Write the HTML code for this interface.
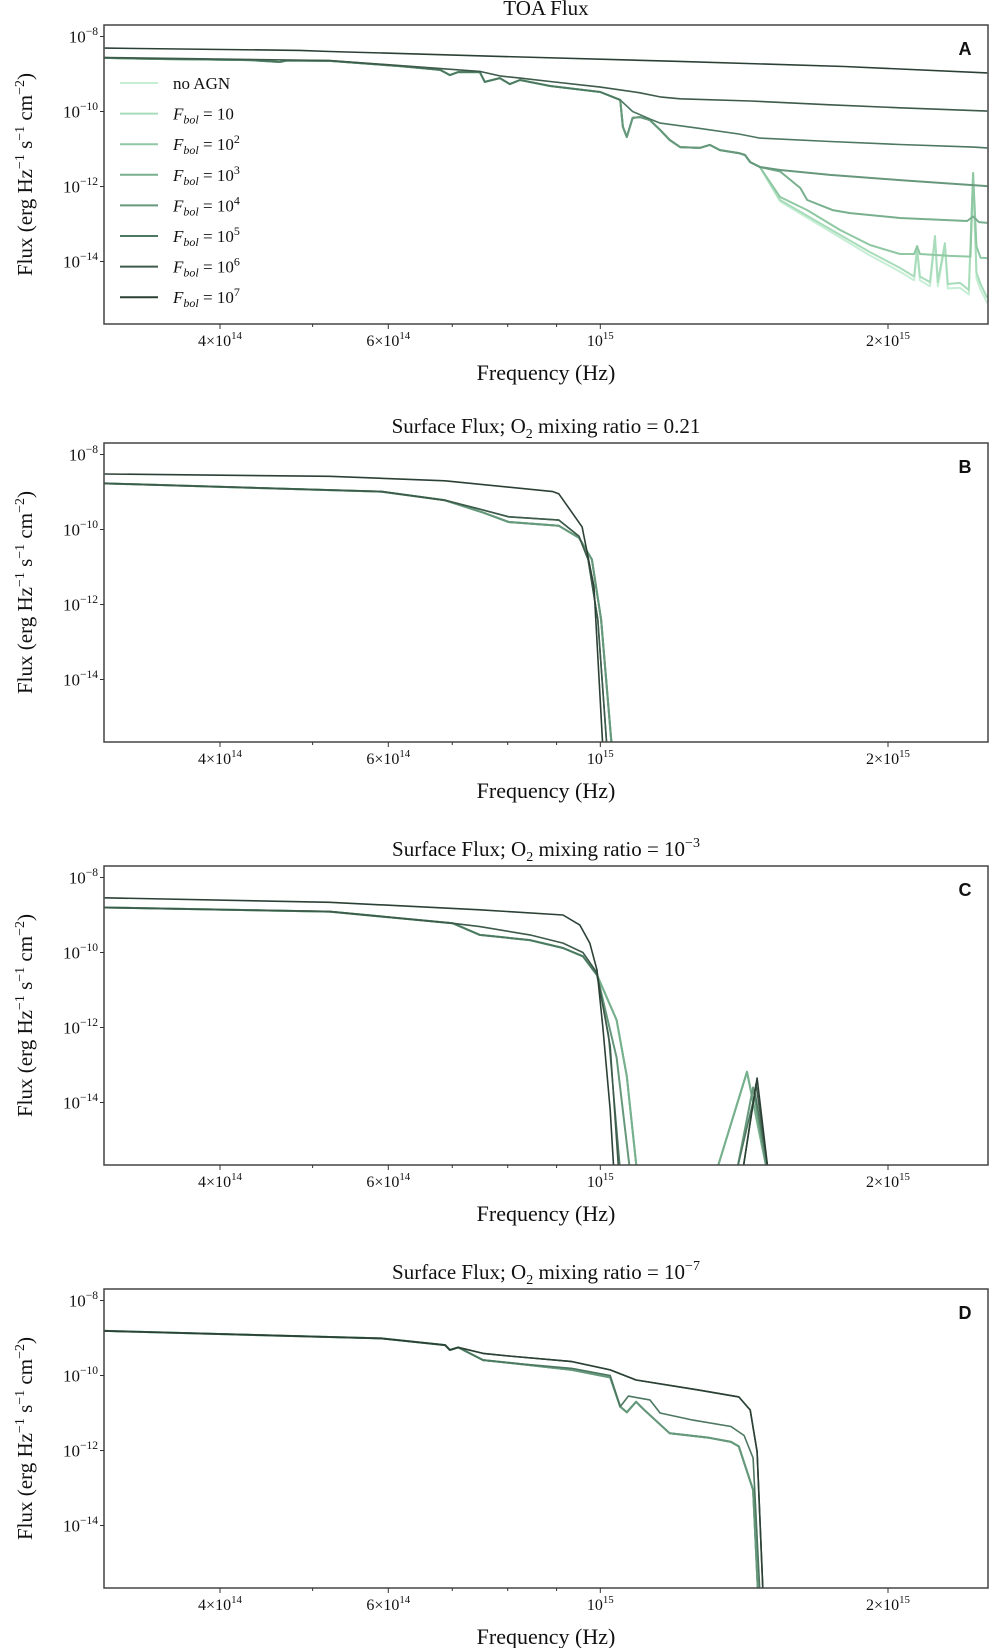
<!DOCTYPE html>
<html><head><meta charset="utf-8">
<style>
html,body{margin:0;padding:0;background:#fff;}
svg{display:block;font-family:"Liberation Serif","DejaVu Serif",serif;}
</style></head>
<body>
<svg id="fig" width="995" height="1648" viewBox="0 0 995 1648" xmlns="http://www.w3.org/2000/svg">
<defs>
<clipPath id="clipA"><rect x="104" y="25" width="884" height="299"/></clipPath>
<clipPath id="clipB"><rect x="104" y="443" width="884" height="299"/></clipPath>
<clipPath id="clipC"><rect x="104" y="866" width="884" height="299"/></clipPath>
<clipPath id="clipD"><rect x="104" y="1289" width="884" height="299"/></clipPath>
</defs>
</svg>
<script>
// ---- shared axis data ----
const seriesNames = ["no AGN","F_bol=10","F_bol=10^2","F_bol=10^3","F_bol=10^4","F_bol=10^5","F_bol=10^6","F_bol=10^7"];
const seriesColors = ["#c6eed4","#a8dcba","#8fc8a2","#78b08e","#67987c","#4c7760","#3d5a4a","#2c4136"];
const xTickValues = [4, 6, 10, 20];            // units of 1e14 Hz
const xTickMant = ["4\u00d710", "6\u00d710", "10", "2\u00d710"];
const xTickExp = ["14", "14", "15", "15"];
const xMinorValues = [5, 7, 8, 9];
const yTickValues = [-8, -10, -12, -14];        // log10 flux
const panelTitles = ["TOA Flux", "Surface Flux; O2 mixing ratio = 0.21", "Surface Flux; O2 mixing ratio = 10^-3", "Surface Flux; O2 mixing ratio = 10^-7"];
const panelLetters = ["A", "B", "C", "D"];

// ---- Panel A (TOA) data: [freq (1e14 Hz), log10 flux] ----
const A_bulk = [[3.03,-8.57],[3.46,-8.60],[3.81,-8.61],[4.30,-8.63],[4.62,-8.68],[4.70,-8.64],[5.21,-8.65],[6.17,-8.79],[6.80,-8.89],[6.96,-9.03],[7.10,-8.95],[7.48,-8.95],[7.57,-9.21],[7.85,-9.11],[8.04,-9.27],[8.24,-9.16],[8.86,-9.32],[10.0,-9.48],[10.49,-9.69],[10.56,-10.41],[10.66,-10.68],[10.81,-10.17],[11.0,-10.15],[11.27,-10.23],[11.55,-10.49],[11.82,-10.76],[12.12,-10.95],[12.71,-10.97],[13.02,-10.89],[13.34,-11.03],[13.96,-11.11],[14.17,-11.16],[14.35,-11.35],[14.69,-11.48]];
const A_f7 = [[3.03,-8.31],[4.85,-8.37],[5.21,-8.40],[7.85,-8.53],[12.0,-8.66],[18.0,-8.80],[25.4,-8.97]];
const A_f6 = [[3.03,-8.56],[5.21,-8.64],[7.48,-8.93],[7.85,-9.05],[8.24,-9.11],[8.86,-9.20],[10.0,-9.35],[11.0,-9.50],[11.55,-9.61],[12.12,-9.66],[14.35,-9.72],[17.39,-9.82],[20.58,-9.90],[25.4,-9.99]];
const A_f5 = A_bulk.slice(0,19).concat([[10.81,-10.0],[11.27,-10.2],[11.55,-10.31],[12.71,-10.45],[13.96,-10.6],[14.69,-10.71],[17.39,-10.80],[20.58,-10.88],[24.55,-10.95],[25.4,-10.97]]);
const A_f4 = A_bulk.concat([[15.42,-11.56],[17.39,-11.69],[20.58,-11.83],[25.4,-11.99]]);
const A_f3 = A_bulk.concat([[15.42,-11.60],[16.19,-12.04],[16.46,-12.36],[17.50,-12.63],[18.26,-12.71],[20.58,-12.84],[24.2,-12.92],[24.55,-12.80],[24.9,-12.95],[25.4,-12.97]]);
const A_f2 = A_bulk.concat([[15.42,-12.28],[16.46,-12.63],[17.82,-13.16],[19.15,-13.56],[20.58,-13.80],[21.3,-13.80],[21.45,-13.59],[21.6,-13.80],[23.2,-13.85],[24.4,-13.87],[24.55,-11.64],[24.75,-13.6],[25.0,-13.9],[25.4,-13.91]]);
const A_f1 = A_bulk.concat([[15.42,-12.36],[17.82,-13.29],[19.15,-13.75],[20.58,-14.17],[21.3,-14.40],[21.45,-13.64],[21.6,-14.40],[22.13,-14.55],[22.4,-13.32],[22.55,-14.55],[22.94,-13.51],[23.1,-14.60],[23.79,-14.57],[24.3,-14.76],[24.55,-11.64],[24.75,-14.30],[25.0,-14.60],[25.4,-14.97]]);
const A_f0 = A_bulk.concat([[15.42,-12.40],[17.82,-13.36],[19.15,-13.84],[20.58,-14.27],[21.3,-14.50],[21.45,-13.70],[21.6,-14.50],[22.13,-14.66],[22.4,-13.40],[22.55,-14.66],[22.94,-13.60],[23.1,-14.72],[23.79,-14.70],[24.3,-14.88],[24.55,-11.70],[24.75,-14.45],[25.0,-14.75],[25.4,-15.11]]);

// ---- Panel B data ----
const B_f7 = [[3.03,-8.52],[5.21,-8.58],[6.88,-8.70],[8.92,-8.99],[9.05,-9.05],[9.57,-9.93],[9.85,-11.53],[10.06,-15.8]];
const B_f6 = [[3.03,-8.77],[5.90,-8.99],[6.88,-9.22],[7.54,-9.48],[8.02,-9.66],[9.05,-9.75],[9.50,-10.18],[9.71,-10.80],[9.94,-12.4],[10.16,-15.8]];
const B_low = [[3.03,-8.77],[5.90,-8.99],[6.88,-9.22],[7.54,-9.55],[8.02,-9.80],[9.05,-9.90],[9.50,-10.22],[9.80,-10.80],[10.02,-12.4],[10.28,-15.8]];

// ---- Panel C data ----
const C_f7 = [[3.03,-8.54],[5.21,-8.66],[7.48,-8.86],[9.14,-9.0],[9.52,-9.27],[9.75,-9.75],[9.92,-10.47],[10.06,-11.98],[10.24,-14.2],[10.33,-15.8],[14.10,-15.8],[14.59,-13.35],[14.98,-15.8]];
const C_f6 = [[3.03,-8.80],[5.21,-8.91],[7.01,-9.22],[7.48,-9.31],[8.44,-9.53],[9.14,-9.75],[9.59,-10.0],[9.92,-10.54],[10.24,-12.5],[10.45,-15.8],[14.10,-15.8],[14.55,-13.5],[14.98,-15.8]];
const C_f5 = [[3.03,-8.80],[5.21,-8.91],[7.01,-9.22],[7.48,-9.53],[8.44,-9.67],[9.14,-9.88],[9.59,-10.1],[9.92,-10.6],[10.20,-12.2],[10.49,-15.8],[13.90,-15.8],[14.52,-13.75],[14.98,-15.8]];
const C_f4 = [[3.03,-8.80],[5.21,-8.91],[7.01,-9.22],[7.48,-9.53],[8.44,-9.67],[9.14,-9.88],[9.59,-10.1],[9.92,-10.6],[10.40,-12.8],[10.74,-15.8],[13.90,-15.8],[14.45,-13.6],[14.94,-15.8]];
const C_low = [[3.03,-8.80],[5.21,-8.91],[7.01,-9.22],[7.48,-9.53],[8.44,-9.67],[9.14,-9.88],[9.59,-10.1],[9.92,-10.6],[10.40,-11.8],[10.66,-13.3],[10.92,-15.8],[13.24,-15.8],[14.24,-13.18],[14.94,-15.8]];

// ---- Panel D data ----
const D_top = [[3.03,-8.81],[5.90,-9.01],[6.88,-9.19],[6.96,-9.32],[7.10,-9.25],[7.54,-9.41],[8.02,-9.48],[9.34,-9.63],[10.24,-9.85],[10.90,-10.12],[12.68,-10.39],[13.96,-10.57],[14.35,-10.92],[14.59,-12.03],[14.80,-15.8]];
const D_mid = [[3.03,-8.81],[5.90,-9.01],[6.88,-9.19],[6.96,-9.32],[7.10,-9.25],[7.54,-9.59],[8.02,-9.66],[9.34,-9.81],[10.24,-10.0],[10.49,-10.83],[10.70,-10.55],[11.27,-10.65],[11.55,-11.0],[12.5,-11.19],[13.70,-11.36],[14.14,-11.6],[14.45,-12.2],[14.69,-15.8]];
const D_low = [[3.03,-8.81],[5.90,-9.01],[6.88,-9.19],[6.96,-9.32],[7.10,-9.25],[7.54,-9.59],[8.02,-9.66],[9.34,-9.85],[10.24,-10.05],[10.49,-10.83],[10.66,-10.98],[10.90,-10.7],[11.1,-10.9],[11.82,-11.54],[13.0,-11.66],[13.70,-11.77],[13.96,-11.89],[14.45,-13.05],[14.62,-15.8]];

const panelSeries = [
  [A_f0, A_f1, A_f2, A_f3, A_f4, A_f5, A_f6, A_f7],
  [B_low, B_low, B_low, B_low, B_low, B_f6, B_f6, B_f7],
  [C_low, C_low, C_low, C_low, C_f4, C_f5, C_f6, C_f7],
  [D_low, D_low, D_low, D_low, D_low, D_mid, D_top, D_top]
];

const NS = "http://www.w3.org/2000/svg";
const svg = document.getElementById("fig");
const tops = [25, 443, 866, 1289];
const L = 104, R = 988, H = 299;
function xScale(f){ return 220 + 955.7 * Math.log10(f / 4); }
function yScale(top, lg){ return top + 11.5 + (-8 - lg) * 37.5; }
function mk(tag, attrs, parent){
  const e = document.createElementNS(NS, tag);
  for (const k in attrs) e.setAttribute(k, attrs[k]);
  (parent || svg).appendChild(e);
  return e;
}
function supText(parent, x, y, base, sup, size, anchor){
  const t = mk("text", {x:x, y:y, "font-size":size, "text-anchor":anchor, fill:"#111"}, parent);
  t.appendChild(document.createTextNode(base));
  const s = mk("tspan", {dy:-size*0.45, "font-size":size*0.68}, t);
  s.textContent = sup;
  return t;
}

tops.forEach((top, p) => {
  const g = mk("g", {});
  
  
  const bottom = top + H;
  const tt = mk("text", {x:546, y:top - 10, "font-size":21, "text-anchor":"middle", fill:"#111"}, g);
  
  
  if (p === 0) tt.textContent = panelTitles[0];
  else {
    tt.appendChild(document.createTextNode("Surface Flux; O"));
    const sb = mk("tspan", {dy:5, "font-size":14}, tt); sb.textContent = "2";
    const rest = mk("tspan", {dy:-5}, tt);
    rest.textContent = p === 1 ? " mixing ratio = 0.21" : " mixing ratio = 10";
    if (p > 1) { const sp = mk("tspan", {dy:-9, "font-size":14}, tt); sp.textContent = p === 2 ? "\u22123" : "\u22127"; }
  }
  const sg = mk("g", {"clip-path":"url(#clip" + panelLetters[p] + ")"}, g);
  
  
  panelSeries[p].forEach((data, i) => {
    const pts = data.map(d => xScale(d[0]).toFixed(1) + "," + yScale(top, d[1]).toFixed(1)).join(" ");
    const pl = mk("polyline", {points:pts, fill:"none", stroke:seriesColors[i], "stroke-width":(i >= 5 ? 1.6 : 2), "stroke-linejoin":"round"}, sg);
    
    
  });
  const fr = mk("rect", {x:L, y:top, width:R - L, height:H, fill:"none", stroke:"#444", "stroke-width":1.5}, g);
  
  
  xTickValues.forEach((v, i) => {
    const x = xScale(v);
    mk("line", {x1:x, x2:x, y1:bottom, y2:bottom + 5, stroke:"#333", "stroke-width":1}, g);
    const lb = supText(g, x, bottom + 22, xTickMant[i], xTickExp[i], 16, "middle");
    
    
  });
  xMinorValues.forEach(v => {
    const x = xScale(v);
    mk("line", {x1:x, x2:x, y1:bottom, y2:bottom + 3, stroke:"#333", "stroke-width":1}, g);
  });
  yTickValues.forEach(v => {
    const y = yScale(top, v);
    mk("line", {x1:L - 4, x2:L, y1:y, y2:y, stroke:"#333", "stroke-width":1}, g);
    const lb = supText(g, 98, y + 6, "10", "\u2212" + (-v), 17, "end");
    
    
  });
  const xl = mk("text", {x:546, y:bottom + 56, "font-size":22, "text-anchor":"middle", fill:"#111"}, g);
  xl.textContent = "Frequency (Hz)";
  
  
  const cy = top + H / 2;
  const yl = mk("text", {x:0, y:0, "font-size":21, "text-anchor":"middle", fill:"#111", transform:"translate(32," + cy + ") rotate(-90)"}, g);
  
  
  yl.appendChild(document.createTextNode("Flux (erg Hz"));
  let s1 = mk("tspan", {dy:-8, "font-size":14}, yl); s1.textContent = "\u22121";
  let s2 = mk("tspan", {dy:8}, yl); s2.textContent = " s";
  let s3 = mk("tspan", {dy:-8, "font-size":14}, yl); s3.textContent = "\u22121";
  let s4 = mk("tspan", {dy:8}, yl); s4.textContent = " cm";
  let s5 = mk("tspan", {dy:-8, "font-size":14}, yl); s5.textContent = "\u22122";
  let s6 = mk("tspan", {dy:8}, yl); s6.textContent = ")";
  const plt = mk("text", {x:965, y:top + 30, "font-size":18, "font-weight":"bold", "text-anchor":"middle", fill:"#111", "font-family":"Liberation Sans, sans-serif"}, g);
  plt.textContent = panelLetters[p];
  
  
});

const lg = mk("g", {});


const legExp = ["", "", "2", "3", "4", "5", "6", "7"];
seriesNames.forEach((n, i) => {
  const y = 83 + 30.6 * i;
  const ln = mk("line", {x1:120, x2:158, y1:y, y2:y, stroke:seriesColors[i], "stroke-width":2}, lg);
  
  
  const t = mk("text", {x:173, y:y + 6, "font-size":17, fill:"#111"}, lg);
  
  
  if (i === 0) { t.textContent = "no AGN"; return; }
  const f = mk("tspan", {"font-style":"italic"}, t); f.textContent = "F";
  const b = mk("tspan", {"font-style":"italic", "font-size":12, dy:4}, t); b.textContent = "bol";
  const eq = mk("tspan", {dy:-4}, t); eq.textContent = " = 10";
  if (legExp[i]) { const e = mk("tspan", {dy:-7, "font-size":12}, t); e.textContent = legExp[i]; }
});
</script>
</body></html>
